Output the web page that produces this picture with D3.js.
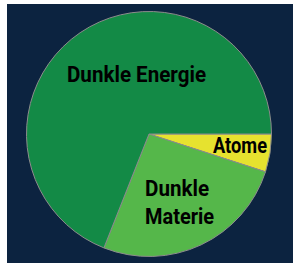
<!DOCTYPE html>
<html><head><meta charset="utf-8">
<script src="https://cdn.jsdelivr.net/npm/d3@7"></script>
<style>html,body{margin:0;padding:0;background:#fff;}svg{display:block;}</style>
</head><body>
<svg id="c" width="293" height="264"></svg>
<script>
const categories = ["Atome", "Dunkle Materie", "Dunkle Energie"];
const values = [5, 26, 69];
const colors = ["#e6e22f", "#55b74a", "#138a46"];
const labelLines = [["Atome"], ["Dunkle", "Materie"], ["Dunkle Energie"]];

const W = 293, H = 264;
const cx = 149, cy = 134, R = 122.5;
const svg = d3.select("#c");
svg.append("rect").attr("x", 7).attr("y", 4).attr("width", W - 7).attr("height", H - 5).attr("fill", "#0c2340");

const data = categories.map((c, i) => ({ name: c, value: values[i], color: colors[i], lines: labelLines[i] }));
const pie = d3.pie().value(d => d.value).sort(null)
  .startAngle(Math.PI / 2).endAngle(Math.PI / 2 + 2 * Math.PI);
const arcs = pie(data);
const arc = d3.arc().innerRadius(0).outerRadius(R);
const g = svg.append("g").attr("transform", `translate(${cx},${cy})`);
g.selectAll("path").data(arcs).join("path")
  .attr("d", arc).attr("fill", d => d.data.color)
  .attr("stroke", "#8c8c8c").attr("stroke-width", 1);

// label layout (in pie-relative pixels)
const labelPos = [
  { x: 64, y: 19, anchor: "start", lens: [54] },
  { x: -4, y: 62, anchor: "start", lens: [64, 69] },
  { x: -82, y: -52.5, anchor: "start", lens: [139] }
];
const lineH = 28;
arcs.forEach((a, i) => {
  const p = labelPos[i];
  const t = g.append("text")
    .attr("font-family", "Roboto, 'Open Sans', sans-serif")
    .attr("font-weight", "bold").attr("font-size", 22)
    .attr("fill", "#000").attr("text-anchor", p.anchor);
  a.data.lines.forEach((ln, j) => {
    t.append("tspan").attr("x", p.x).attr("y", p.y + j * lineH)
      .attr("textLength", p.lens[j]).attr("lengthAdjust", "spacingAndGlyphs")
      .text(ln);
  });
});
</script>
</body></html>
